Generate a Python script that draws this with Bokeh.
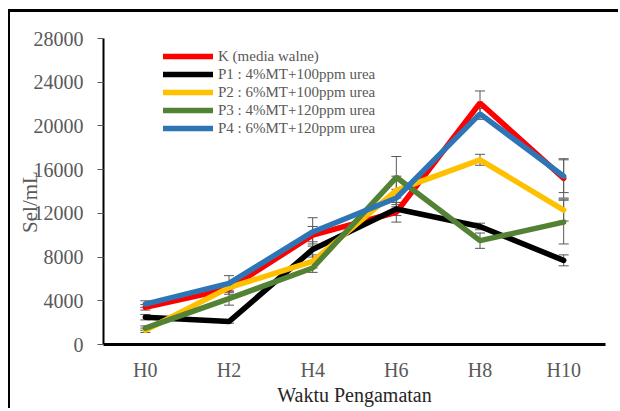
from bokeh.plotting import figure
from bokeh.models import ColumnDataSource, Legend, LegendItem, FixedTicker, Whisker, TeeHead
from bokeh.embed import file_html
from bokeh.resources import INLINE

days = ["H0", "H2", "H4", "H6", "H8", "H10"]
names = ["K (media walne)", "P1 : 4%MT+100ppm urea", "P2 : 6%MT+100ppm urea",
         "P3 : 4%MT+120ppm urea", "P4 : 6%MT+120ppm urea"]
k_vals = [3400, 5100, 10000, 12100, 22100, 15200]
p1_vals = [2500, 2100, 8700, 12400, 10800, 7700]
p2_vals = [1300, 5200, 7600, 14100, 16900, 12300]
p3_vals = [1500, 4200, 7000, 15300, 9500, 11200]
p4_vals = [3700, 5600, 10300, 13400, 21100, 15400]
k_err = [250, 500, 800, 900, 1100, 1800]
p1_err = [250, 150, 700, 600, 300, 500]
p2_err = [200, 400, 600, 1300, 500, 1000]
p3_err = [200, 600, 400, 1900, 700, 2000]
p4_err = [300, 700, 1300, 800, 500, 1500]
y_ticks = [0, 4000, 8000, 12000, 16000, 20000, 24000, 28000]

series = [k_vals, p1_vals, p2_vals, p3_vals, p4_vals]
errors = [k_err, p1_err, p2_err, p3_err, p4_err]
colors = ["#FF0000", "#000000", "#FFC000", "#548235", "#2E75B6"]

FONT = "Liberation Serif"
GREY = "#595959"

p = figure(x_range=days, y_range=(0, 28000), width=610, height=399,
           output_backend="svg", toolbar_location=None,
           min_border_left=93, min_border_right=15, min_border_top=26,
           min_border_bottom=67,
           styles={"border-left": "2px solid black", "border-top": "3px solid black",
                   "margin-left": "8px", "margin-top": "9px"})
p.outline_line_color = None
p.xgrid.visible = False
p.ygrid.visible = False

renderers = []
for vals, col in zip(series, colors):
    r = p.line(days, vals, line_color=col, line_width=5.5, line_cap="round")
    renderers.append(r)

for vals, err in zip(series, errors):
    src = ColumnDataSource(dict(x=days, upper=[v + e for v, e in zip(vals, err)],
                                lower=[v - e for v, e in zip(vals, err)]))
    w = Whisker(source=src, base="x", upper="upper", lower="lower",
                line_color=GREY, line_width=1,
                upper_head=TeeHead(size=10, line_color=GREY, line_width=1),
                lower_head=TeeHead(size=10, line_color=GREY, line_width=1))
    p.add_layout(w)

legend = Legend(items=[LegendItem(label=n, renderers=[r]) for n, r in zip(names, renderers)],
                location=(60, 207), padding=0, margin=0, spacing=0,
                glyph_width=50, glyph_height=18, label_height=18, label_standoff=5,
                label_text_font=FONT, label_text_font_size="15px", label_text_color=GREY,
                border_line_color=None, background_fill_alpha=0)
p.add_layout(legend)

p.yaxis.ticker = FixedTicker(ticks=y_ticks)
p.yaxis.minor_tick_line_color = None
p.yaxis.major_tick_out = 6
p.yaxis.major_tick_in = 0
p.yaxis.major_tick_line_color = GREY
p.yaxis.axis_line_width = 2
p.yaxis.axis_line_color = "black"
p.yaxis.major_label_standoff = 14
p.yaxis.major_label_text_font = FONT
p.yaxis.major_label_text_font_size = "20px"
p.yaxis.major_label_text_color = GREY
p.yaxis.axis_label = "Sel/mL\u00a0\u00a0\u00a0\u00a0"
p.yaxis.axis_label_text_font = FONT
p.yaxis.axis_label_text_font_size = "21px"
p.yaxis.axis_label_text_font_style = "normal"
p.yaxis.axis_label_text_color = GREY
p.yaxis.axis_label_standoff = -11

p.xaxis.major_tick_line_color = None
p.xaxis.minor_tick_line_color = None
p.xaxis.axis_line_width = 3
p.xaxis.axis_line_color = "black"
p.xaxis.major_label_standoff = 8
p.xaxis.major_label_text_font = FONT
p.xaxis.major_label_text_font_size = "20px"
p.xaxis.major_label_text_color = GREY
p.xaxis.axis_label = "Waktu Pengamatan"
p.xaxis.axis_label_text_font = FONT
p.xaxis.axis_label_text_font_size = "20px"
p.xaxis.axis_label_text_font_style = "normal"
p.xaxis.axis_label_text_color = "#262626"
p.xaxis.axis_label_standoff = 0

open("out.html", "w").write(file_html(p, INLINE))
